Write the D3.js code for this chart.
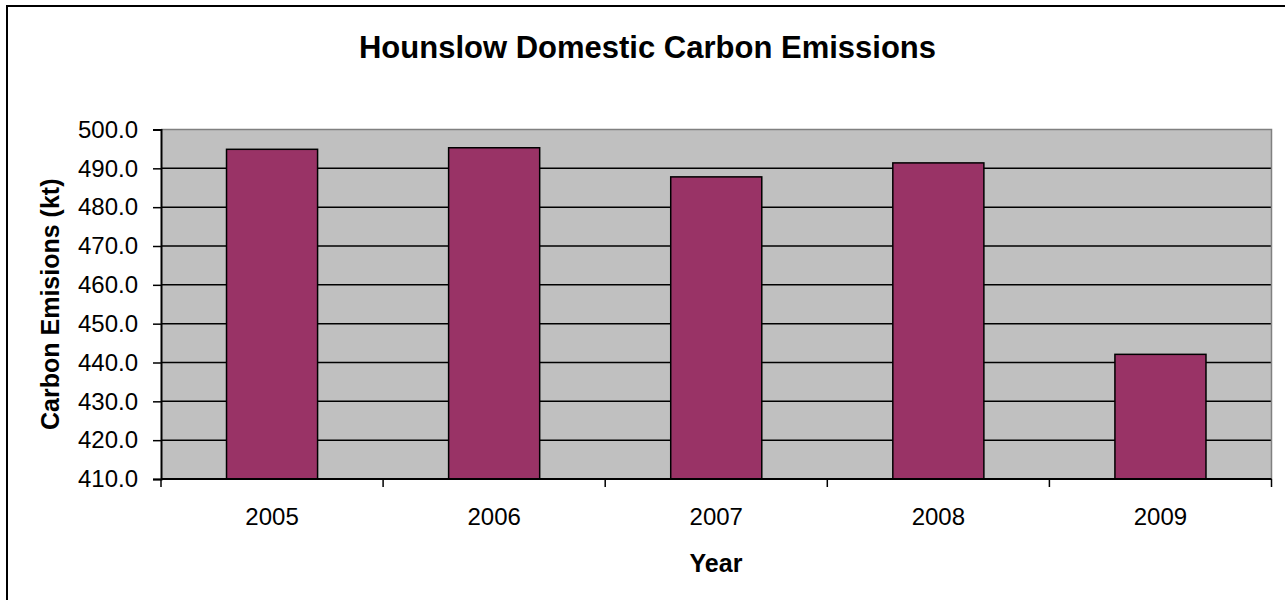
<!DOCTYPE html>
<html>
<head>
<meta charset="utf-8">
<script src="https://cdn.jsdelivr.net/npm/d3@7"></script>
<style>
  html, body { margin: 0; padding: 0; background: #fff; }
  svg { display: block; font-family: "Liberation Sans", Arial, sans-serif; }
</style>
</head>
<body>
<svg id="chart" width="1285" height="600"></svg>
<script>
// Domestic carbon emissions, kilotonnes, per year
const years = ["2005", "2006", "2007", "2008", "2009"];
const emissions = [494.9, 495.3, 487.8, 491.4, 442.1];
const yTicks = [410, 420, 430, 440, 450, 460, 470, 480, 490, 500];

const svg = d3.select("#chart");

const plot = { left: 161, right: 1271.5, top: 129.5, bottom: 479 };

const x = d3.scaleBand().domain(years).range([plot.left, plot.right]).padding(0);
const y = d3.scaleLinear().domain([410, 500]).range([plot.bottom, plot.top]);

// Chart frame
svg.append("rect")
  .attr("x", 7).attr("y", 6)
  .attr("width", 1282).attr("height", 660)
  .attr("fill", "#fff").attr("stroke", "#000").attr("stroke-width", 2);

// Title
svg.append("text")
  .attr("x", 647.5).attr("y", 58)
  .attr("text-anchor", "middle")
  .attr("font-size", 31).attr("font-weight", "bold")
  .text("Hounslow Domestic Carbon Emissions");

// Plot background
svg.append("rect")
  .attr("x", plot.left).attr("y", plot.top)
  .attr("width", plot.right - plot.left).attr("height", plot.bottom - plot.top)
  .attr("fill", "#C0C0C0");

// Horizontal gridlines
svg.append("g")
  .selectAll("line")
  .data(yTicks.filter(t => t > 410 && t < 500))
  .join("line")
  .attr("x1", plot.left).attr("x2", plot.right)
  .attr("y1", d => y(d)).attr("y2", d => y(d))
  .attr("stroke", "#000").attr("stroke-width", 1.5);

// Plot border (top and right in grey)
svg.append("path")
  .attr("d", `M${plot.left},${plot.top}H${plot.right}V${plot.bottom}`)
  .attr("fill", "none").attr("stroke", "#808080").attr("stroke-width", 1.5);

// Bars
const barW = x.bandwidth() * 0.41;
svg.append("g")
  .selectAll("rect")
  .data(years.map((yr, i) => ({ yr, v: emissions[i] })))
  .join("rect")
  .attr("x", d => x(d.yr) + (x.bandwidth() - barW) / 2)
  .attr("y", d => y(d.v))
  .attr("width", barW)
  .attr("height", d => plot.bottom - y(d.v))
  .attr("fill", "#993366")
  .attr("stroke", "#000").attr("stroke-width", 1.5);

// Y axis
const yAxis = svg.append("g")
  .attr("transform", `translate(${plot.left},0)`)
  .call(d3.axisLeft(y).tickValues(yTicks).tickFormat(d3.format(".1f")).tickSize(8).tickPadding(15));
yAxis.select(".domain").attr("stroke", "#000").attr("stroke-width", 2);
yAxis.selectAll(".tick line").attr("stroke", "#000").attr("stroke-width", 1.5);
yAxis.selectAll(".tick text")
  .attr("font-size", 24).attr("fill", "#000")
  .attr("font-family", "Liberation Sans, Arial, sans-serif");

// X axis: ticks fall on category boundaries
const xAxis = svg.append("g")
  .attr("transform", `translate(0,${plot.bottom})`);
xAxis.append("line")
  .attr("x1", plot.left).attr("x2", plot.right)
  .attr("stroke", "#000").attr("stroke-width", 2);
const boundaries = years.map(yr => x(yr)).concat([x(years[years.length - 1]) + x.bandwidth()]);
xAxis.selectAll("line.tick")
  .data(boundaries)
  .join("line")
  .attr("class", "tick")
  .attr("x1", d => d).attr("x2", d => d)
  .attr("y1", 0).attr("y2", 8)
  .attr("stroke", "#000").attr("stroke-width", 1.5);
xAxis.selectAll("text")
  .data(years)
  .join("text")
  .attr("x", d => x(d) + x.bandwidth() / 2)
  .attr("y", 46)
  .attr("text-anchor", "middle")
  .attr("font-size", 24)
  .text(d => d);

// Axis titles
svg.append("text")
  .attr("x", 716).attr("y", 572)
  .attr("text-anchor", "middle")
  .attr("font-size", 25).attr("font-weight", "bold")
  .text("Year");

svg.append("text")
  .attr("transform", `translate(59,${(plot.top + plot.bottom) / 2}) rotate(-90)`)
  .attr("text-anchor", "middle")
  .attr("font-size", 25).attr("font-weight", "bold")
  .text("Carbon Emisions (kt)");
</script>
</body>
</html>
